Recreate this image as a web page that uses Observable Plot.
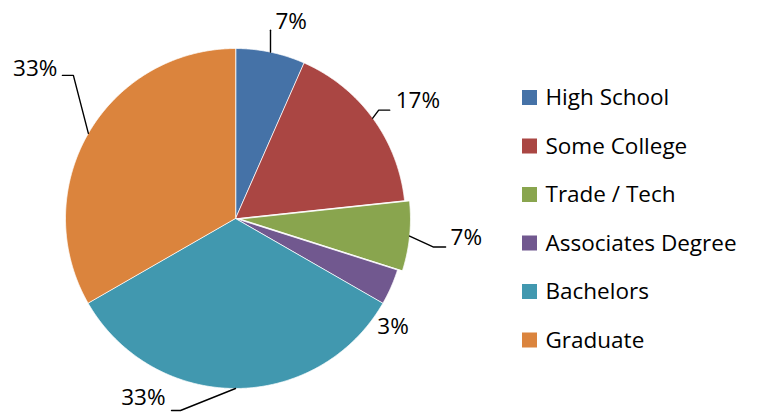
<!DOCTYPE html>
<html><head><meta charset="utf-8">
<script src="https://cdn.jsdelivr.net/npm/d3@7"></script>
<script src="https://cdn.jsdelivr.net/npm/@observablehq/plot@0.6"></script>
<style>body{margin:0;background:#fff}</style>
</head><body><div id="chart"></div>
<script>
// ---- data ----
const categories = ["High School", "Some College", "Trade / Tech", "Associates Degree", "Bachelors", "Graduate"];
const shares = [6.6, 16.7, 6.6, 3.4, 33.4, 33.3];
const colors = ["#4572A7", "#AA4643", "#89A54E", "#71588F", "#4198AF", "#DB843D"];
const explodedCategory = "Trade / Tech";

// ---- layout ----
const W = 762, H = 414, cx = 235, cy = 218, R = 170, explode = 5;
const FONT = "Open Sans, sans-serif", FS = 22.5;
// label placement per slice: elbow offset from the arc point, horizontal run, text offset from line end
const labelLayout = [
  {ex: 0, ey: -22, h: 0, tx: 5, ty: -8, anchor: "start", leader: true},
  {ex: 6, ey: -8, h: 11, tx: 6, ty: -9, anchor: "start", leader: true},
  {ex: 24, ey: 11, h: 12, tx: 5, ty: -9, anchor: "start", leader: true},
  {ex: 2, ey: 40, h: 0, tx: 0, ty: 0, anchor: "middle", leader: false},
  {ex: -55, ey: 22, h: -9, tx: -6, ty: -13, anchor: "end", leader: true},
  {ex: -15, ey: -58, h: -11, tx: -5, ty: -7, anchor: "end", leader: true}
];

const arcs = d3.pie().sort(null).value(d => d)(shares);
const pt = (a, r, ox = 0, oy = 0) => [cx + ox + r * Math.sin(a), cy + oy - r * Math.cos(a)];

const slicePts = [];
const leaderPts = [];
const labels = [];
arcs.forEach((a, i) => {
  const cat = categories[i];
  const mid = (a.startAngle + a.endAngle) / 2;
  const off = cat === explodedCategory ? explode : 0;
  const ox = off * Math.sin(mid), oy = -off * Math.cos(mid);
  slicePts.push({cat, x: cx + ox, y: cy + oy});
  const n = Math.max(2, Math.ceil((a.endAngle - a.startAngle) / 0.005));
  for (let k = 0; k <= n; k++) {
    const ang = a.startAngle + (a.endAngle - a.startAngle) * k / n;
    const [x, y] = pt(ang, R, ox, oy);
    slicePts.push({cat, x, y});
  }
  const L = labelLayout[i];
  const [ax, ay] = pt(mid, R, ox, oy);
  const p1 = [ax + L.ex, ay + L.ey];
  const p2 = [p1[0] + L.h, p1[1]];
  if (L.leader) {
    leaderPts.push({cat, x: ax, y: ay}, {cat, x: p1[0], y: p1[1]}, {cat, x: p2[0], y: p2[1]});
  }
  labels.push({text: Math.round(shares[i]) + "%", x: p2[0] + L.tx, y: p2[1] + L.ty, anchor: L.anchor});
});

const legendRows = categories.map((c, i) => ({cat: c, y: 97.5 + i * 48.5}));

const chart = Plot.plot({
  width: W, height: H,
  margin: 0,
  style: {fontFamily: FONT, background: "#fff"},
  x: {domain: [0, W], range: [0, W], axis: null},
  y: {domain: [0, H], range: [0, H], axis: null},
  color: {domain: categories, range: colors},
  marks: [
    Plot.line(slicePts, {x: "x", y: "y", z: "cat", fill: "cat", stroke: "white", strokeWidth: 0.8, curve: "linear-closed"}),
    Plot.line(leaderPts, {x: "x", y: "y", z: "cat", stroke: "black", strokeWidth: 1.4}),
    Plot.text(labels.filter(d => d.anchor === "start"), {x: "x", y: "y", text: "text", textAnchor: "start", fontSize: FS, fill: "black"}),
    Plot.text(labels.filter(d => d.anchor === "end"), {x: "x", y: "y", text: "text", textAnchor: "end", fontSize: FS, fill: "black"}),
    Plot.text(labels.filter(d => d.anchor === "middle"), {x: "x", y: "y", text: "text", textAnchor: "middle", fontSize: FS, fill: "black"}),
    Plot.rect(legendRows, {x1: 522, x2: 537, y1: d => d.y - 7.5, y2: d => d.y + 7.5, fill: "cat"}),
    Plot.text(legendRows, {x: 545, y: "y", text: "cat", textAnchor: "start", fontSize: FS, fill: "black"})
  ]
});
document.getElementById("chart").appendChild(chart);
</script>
</body></html>
